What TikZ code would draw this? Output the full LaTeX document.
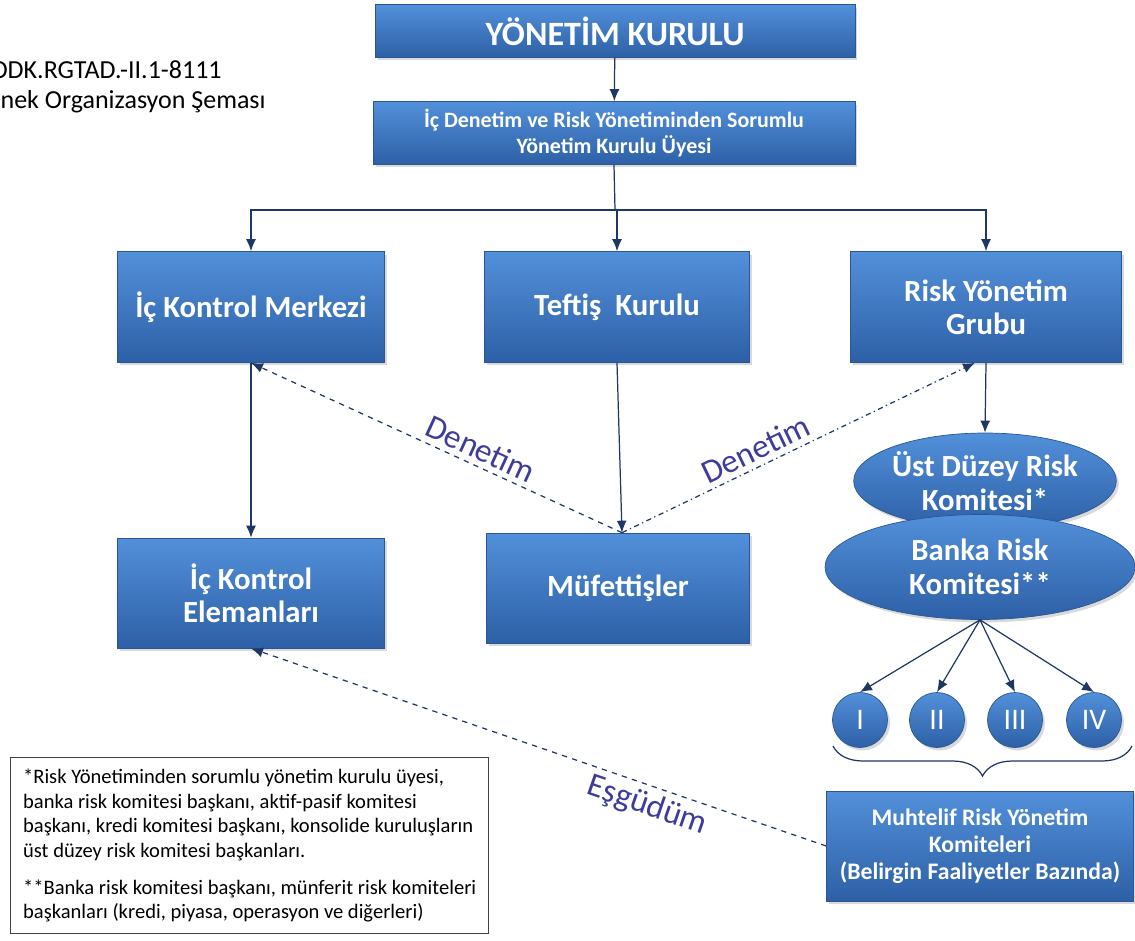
\documentclass[tikz,border=0pt]{standalone}
\usepackage{fontspec}
\setmainfont{Carlito}
\usepackage{tikz}
\usetikzlibrary{positioning,calc,arrows.meta,shapes.geometric,shadows,decorations.pathreplacing}
\usepackage{xcolor}

\definecolor{boxtop}{RGB}{82,144,218}
\definecolor{boxbot}{RGB}{45,96,166}
\definecolor{boxedge}{RGB}{42,86,150}
\definecolor{linkblue}{RGB}{30,55,100}
\definecolor{labelblue}{RGB}{62,60,155}

\tikzset{
  orgbox/.style={rectangle, draw=boxedge, top color=boxtop, bottom color=boxbot,
    text=white, align=center, inner sep=2pt,
    font=\bfseries\fontsize{17.5}{19}\selectfont,
    drop shadow={opacity=0.3, shadow xshift=0.05cm, shadow yshift=-0.06cm}},
  orgoval/.style={orgbox, ellipse, inner sep=0pt},
  orgdot/.style={orgbox, circle, minimum size=1.1cm, inner sep=0pt,
    font=\fontsize{17}{19}\selectfont},
  arr/.style={-{Latex[length=2.4mm,width=2mm]}, draw=linkblue, line width=0.7pt},
  lnk/.style={draw=linkblue, line width=0.7pt},
  rel/.style={text=labelblue, font=\fontsize{19}{21}\selectfont, inner sep=1pt}
}

\begin{document}
\begin{tikzpicture}[x=0.02cm, y=-0.02cm]
  \useasboundingbox (0,0) rectangle (1135,940);

  % heading text at the top left
  \node[anchor=base east, inner sep=0pt, font=\fontsize{14.8}{17}\selectfont] (ref) at (222,78) {ODK.RGTAD.-II.1-8111};
  \node[anchor=base east, inner sep=0pt, font=\fontsize{14.8}{17}\selectfont] (title) at (266,108) {nek Organizasyon Şeması};

  % board
  \node[orgbox, minimum width=9.6cm, minimum height=1.06cm, font=\bfseries\fontsize{19.4}{21}\selectfont] (yk) at (615,31) {YÖNETİM KURULU};
  \node[orgbox, minimum width=9.64cm, minimum height=1.26cm, font=\bfseries\fontsize{12.5}{14.5}\selectfont] (idr) at (614,133)
    {İç Denetim ve Risk Yönetiminden Sorumlu\\Yönetim Kurulu Üyesi};

  % three units
  \node[orgbox, minimum width=5.34cm, minimum height=2.22cm] (ikm) at (251,307) {İç Kontrol Merkezi};
  \node[orgbox, minimum width=5.3cm, minimum height=2.22cm] (tk) at (617,307) {Teftiş\ \ Kurulu};
  \node[orgbox, minimum width=5.42cm, minimum height=2.22cm] (ryg) at (986,307) {Risk Yönetim\\Grubu};

  \node[orgbox, minimum width=5.34cm, minimum height=2.2cm] (ike) at (251,593) {İç Kontrol\\Elemanları};
  \node[orgbox, minimum width=5.26cm, minimum height=2.2cm] (muf) at (618,588) {Müfettişler};

  % committees
  \node[orgoval, minimum width=5.18cm, minimum height=1.92cm] (ust) at (985,481) {Üst Düzey Risk\\Komitesi*};
  \node[orgoval, minimum width=6.2cm, minimum height=2.1cm] (bnk) at (980,567) {Banka Risk\\Komitesi**};

  \foreach \nm/\xx/\lbl in {c1/860/I, c2/937/II, c3/1015/III, c4/1094/IV}
    \node[orgdot] (\nm) at (\xx,720) {\lbl};

  \node[orgbox, minimum width=6.14cm, minimum height=2.2cm, font=\bfseries\fontsize{13.5}{15.5}\selectfont] (muh) at (980,846)
    {Muhtelif Risk Yönetim\\Komiteleri\\(Belirgin Faaliyetler Bazında)};

  % notes
  \node[draw=black!75, line width=0.8pt, anchor=north west, minimum width=9.56cm, minimum height=3.52cm,
    inner sep=0pt, align=left, font=\fontsize{11.7}{14}\selectfont] (notes) at (10,757)
    {*Risk Yönetiminden sorumlu yönetim kurulu üyesi,\\
     banka risk komitesi başkanı, aktif-pasif komitesi\\
     başkanı, kredi komitesi başkanı, konsolide kuruluşların\\
     üst düzey risk komitesi başkanları.\\[7pt]
     **Banka risk komitesi başkanı, münferit risk komiteleri\\
     başkanları (kredi, piyasa, operasyon ve diğerleri)};

  % connectors
  \coordinate (split) at (615,210);
  \draw[arr] (yk) -- (idr);
  \draw[lnk] (idr.south) -- (split);
  \draw[arr] (split) -| (ikm.north);
  \draw[arr] (split) -| (tk.north);
  \draw[arr] (split) -| (ryg.north);
  \draw[arr] (ikm.south) -- (ike.north);
  \draw[arr] (tk.south) -- ([xshift=0.08cm]muf.north);
  \draw[arr] (ryg.south) -- (ust.north);
  \foreach \nm in {c1,c2,c3,c4}
    \draw[arr] (bnk.south) -- (\nm.north);

  \draw[arr, dashed] ([xshift=0.08cm]muf.north) -- node[rel, sloped, above=2pt, pos=0.4] {Denetim} (ikm.south);
  \draw[arr, dash dot] ([xshift=0.08cm]muf.north) -- node[rel, sloped, above=2pt, pos=0.4] {Denetim} ([xshift=-0.22cm]ryg.south);
  \draw[arr, dashed] (muh.west) -- node[rel, sloped, below=2pt, pos=0.3] {Eşgüdüm} (ike.south);

  \draw[linkblue, line width=0.7pt, decorate, decoration={brace, amplitude=0.6cm, aspect=0.5}] (1132,746) -- (833,746);
\end{tikzpicture}
\end{document}
